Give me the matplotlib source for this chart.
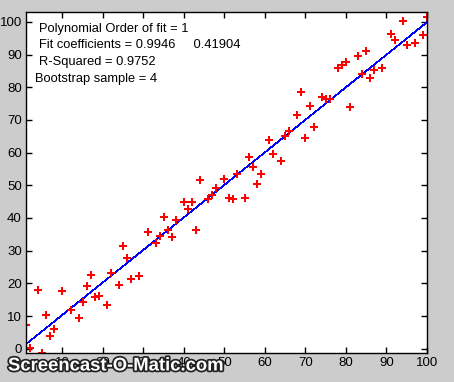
import numpy as np
import matplotlib
matplotlib.use("Agg")
import matplotlib.pyplot as plt
import matplotlib.patheffects as pe

# bootstrap sample points
x_veri = [1, 2, 4, 5, 6, 7, 8, 10, 12, 14, 15, 16, 17, 18, 19, 21, 22, 24, 25, 26,
          27, 29, 31, 33, 34, 35, 36, 37, 38, 40, 41, 42, 43, 44, 46, 47, 48, 50, 51, 52,
          53, 55, 56, 57, 58, 59, 61, 62, 64, 65, 66, 68, 69, 70, 71, 72, 74, 75, 76, 78,
          79, 80, 81, 83, 84, 85, 86, 87, 89, 91, 92, 94, 95, 97, 99, 100]
y_veri = [7.2, 0.2, 18.0, -1.3, 10.3, 3.9, 6.0, 17.6, 11.8, 9.4, 14.3, 19.2, 22.5, 15.8, 16.1, 13.4, 23.1, 19.5, 31.4, 27.7,
          21.3, 22.2, 35.7, 32.3, 34.5, 40.3, 36.3, 34.2, 39.4, 44.9, 42.7, 44.9, 36.3, 51.6, 45.8, 47.0, 49.1, 51.9, 46.1, 45.8,
          53.4, 46.1, 58.6, 55.6, 50.4, 53.4, 63.8, 59.5, 57.4, 65.0, 66.6, 71.5, 78.5, 64.4, 74.2, 67.8, 77.0, 76.4, 76.4, 85.8,
          86.8, 87.7, 73.9, 89.5, 84.0, 91.0, 82.8, 85.2, 85.8, 96.2, 94.4, 100.2, 92.9, 93.5, 95.9, 101.4]

# fit results shown on the chart
fit_katsayi = [0.9946, 0.41904]
r_kare = 0.9752
ornek_no = 4

x_veri = np.array(x_veri)
y_veri = np.array(y_veri)
y_fit = np.polyval(fit_katsayi, x_veri)

plt.rcParams['font.family'] = ['Liberation Sans', 'DejaVu Sans']

fig = plt.figure(figsize=(4.54, 3.82), dpi=100, facecolor='#cccccc')
ax = fig.add_axes([26 / 454, 29 / 382, 401 / 454, 341 / 382])
ax.set_facecolor('white')

# fitted line, thin and jagged like the matlab screen render
ax.plot(x_veri, y_fit, color='blue', linewidth=0.5, antialiased=False)
ax.plot(x_veri, y_veri, 'P', color='red', markersize=6, markeredgewidth=0)

ax.set_xlim(1, 100)
ax.set_ylim(-1.3, 103.0)
ax.set_xticks(np.arange(10, 101, 10))
ax.set_yticks(np.arange(0, 101, 10))
ax.tick_params(direction='in', top=True, right=True, length=4, width=1,
               labelsize=9.5, colors='black', pad=3)
for s in ax.spines.values():
    s.set_linewidth(1)

# annotation texts
ax.text(4.1, 97.9, 'Polynomial Order of fit = 1', fontsize=9.3, va='center')
ax.text(4.1, 92.9, 'Fit coefficients = %.4f     %.5f' % (fit_katsayi[0], fit_katsayi[1]),
        fontsize=9.3, va='center')
ax.text(4.1, 87.8, 'R-Squared = %.4f' % r_kare, fontsize=9.3, va='center')
ax.text(3.1, 82.6, 'Bootstrap sample = %d' % ornek_no, fontsize=9.3, va='center')

# screen recorder watermark (sits over the x tick labels in the original)
fig.text(8 / 454, 1 - 366 / 382, 'Screencast-O-Matic.com', fontsize=13.3, fontweight='bold',
         color='white', va='center', ha='left', zorder=10,
         path_effects=[pe.withStroke(linewidth=2.5, foreground='#222222')])

fig.savefig('out.png', dpi=100, facecolor=fig.get_facecolor())
